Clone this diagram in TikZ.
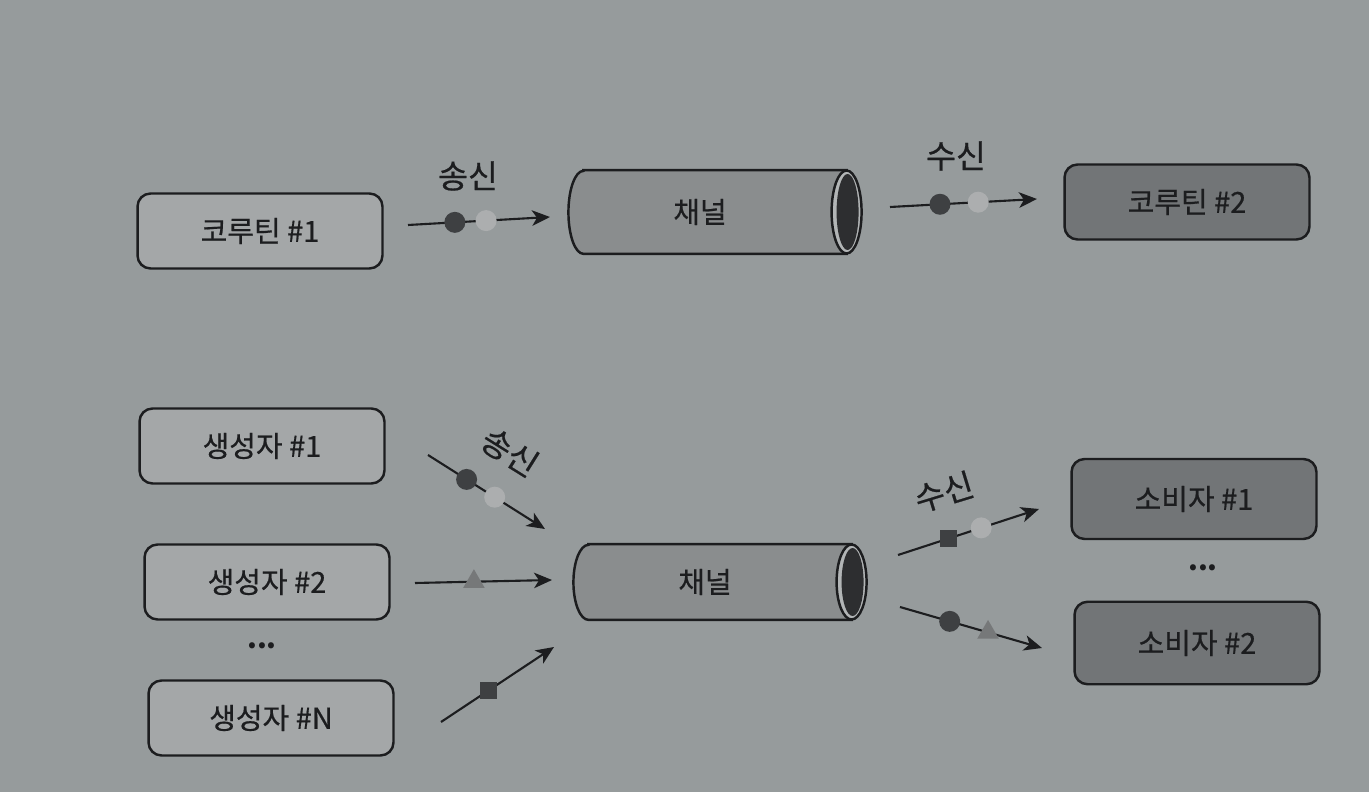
\documentclass[tikz,border=0pt]{standalone}
\usepackage{fontspec}
\setmainfont{Noto Sans CJK KR}[UprightFeatures={FakeBold=0.6}]
\usetikzlibrary{arrows.meta,shapes.geometric}

\definecolor{pagebg}{RGB}{150,155,156}
\definecolor{boxlight}{RGB}{164,167,168}
\definecolor{boxdark}{RGB}{114,117,119}
\definecolor{chanfill}{RGB}{138,141,142}
\definecolor{rimfill}{RGB}{178,181,182}
\definecolor{holefill}{RGB}{45,46,48}
\definecolor{inkcol}{RGB}{28,29,31}
\definecolor{balldark}{RGB}{62,64,66}
\definecolor{balllight}{RGB}{172,174,175}
\definecolor{trifill}{RGB}{118,120,121}

\begin{document}
\begin{tikzpicture}[
    x=0.02cm, y=0.02cm,
    box/.style={draw=inkcol, line width=1.4pt, rounded corners=0.26cm, minimum width=4.9cm, minimum height=1.5cm, font=\fontsize{16.5}{19}\selectfont, text=inkcol},
    srcbox/.style={box, fill=boxlight},
    dstbox/.style={box, fill=boxdark},
    pipebox/.style={minimum width=5.85cm, minimum height=1.66cm, inner sep=0pt},
    lbl/.style={font=\fontsize{18.5}{21}\selectfont, inner sep=0pt, text=inkcol},
    dots/.style={font=\fontsize{16}{18}\selectfont\bfseries, text=inkcol},
    arrow/.style={-{Stealth[length=3.6mm,width=3.1mm,inset=1mm]}, line width=1.2pt, draw=inkcol},
    ball/.style={circle, inner sep=0pt, minimum size=0.42cm},
    dark/.style={ball, fill=balldark},
    light/.style={ball, fill=balllight},
    tri/.style={regular polygon, regular polygon sides=3, inner sep=0pt, minimum size=0.5cm, fill=trifill},
    sq/.style={rectangle, inner sep=0pt, minimum size=0.34cm, fill=balldark}
  ]
    \fill[pagebg] (0,0) rectangle (1369,792);
    \useasboundingbox (0,0) rectangle (1369,792);

    % one sender, one receiver
    \node[srcbox] (co1) at (260,561) {코루틴 \#1};
    \node[pipebox] (ch1) at (715,580) {};
    \node[dstbox] (co2) at (1187,590) {코루틴 \#2};

    % many producers, many consumers
    \node[srcbox] (pr1) at (262,346) {생성자 \#1};
    \node[srcbox] (pr2) at (267,210) {생성자 \#2};
    \node[dots] (pdots) at (262,146) {...};
    \node[srcbox] (prn) at (271,74) {생성자 \#N};
    \node[pipebox, minimum height=1.5cm] (ch2) at (720,210) {};
    \node[dstbox, minimum height=1.6cm] (cs1) at (1194,293) {소비자 \#1};
    \node[dots] (cdots) at (1203,224) {...};
    \node[dstbox, minimum height=1.65cm] (cs2) at (1197,149) {소비자 \#2};

    % pipes
    \foreach \p/\ry in {ch1/0.83cm, ch2/0.75cm} {
      \draw[fill=chanfill, line width=1.4pt, draw=inkcol]
        ([xshift=0.3cm]\p.north west) -- ([xshift=-0.3cm]\p.north east)
        -- ([xshift=-0.3cm]\p.south east) -- ([xshift=0.3cm]\p.south west)
        arc[start angle=270, end angle=90, x radius=0.3cm, y radius=\ry] -- cycle;
      \draw[fill=rimfill, line width=1.4pt, draw=inkcol]
        ([xshift=-0.3cm]\p.east) ellipse[x radius=0.3cm, y radius=\ry];
      \fill[holefill] ([xshift=-0.28cm]\p.east) ellipse[x radius=0.22cm, y radius=\ry-0.07cm];
    }
    \node[box, draw=none, fill=none] (ch1t) at ([xshift=-0.3cm]ch1.center) {채널};
    \node[box, draw=none, fill=none] (ch2t) at ([xshift=-0.3cm]ch2.center) {채널};

    % arrows
    \coordinate (a1s) at (408,567);  \coordinate (a1e) at (550,575);
    \coordinate (a2s) at (890,585);  \coordinate (a2e) at (1037,593);
    \coordinate (b1s) at (428,337);  \coordinate (b1e) at (545,263);
    \coordinate (b2s) at (415,209);  \coordinate (b2e) at (552,212);
    \coordinate (b3s) at (441,70);   \coordinate (b3e) at (554,145);
    \coordinate (c1s) at (898,237);  \coordinate (c1e) at (1039,283);
    \coordinate (c2s) at (900,185);  \coordinate (c2e) at (1042,144);

    \draw[arrow] (a1s) -- node[pos=0.33, dark] (m1) {} node[pos=0.55, light] (m2) {} (a1e);
    \draw[arrow] (a2s) -- node[pos=0.34, dark] (m3) {} node[pos=0.6, light] (m4) {} (a2e);
    \draw[arrow] (b1s) -- node[pos=0.33, dark] (m5) {} node[pos=0.57, light] (m6) {} (b1e);
    \draw[arrow] (b2s) -- node[pos=0.43, tri] (m7) {} (b2e);
    \draw[arrow] (b3s) -- node[pos=0.42, sq] (m8) {} (b3e);
    \draw[arrow] (c1s) -- node[pos=0.36, sq] (m9) {} node[pos=0.59, light] (m10) {} (c1e);
    \draw[arrow] (c2s) -- node[pos=0.35, dark] (m11) {} node[pos=0.62, tri] (m12) {} (c2e);

    % labels
    \node[lbl] (send1) at (468,616) {송신};
    \node[lbl] (recv1) at (956,636) {수신};
    \node[lbl, rotate=-32] (send2) at (510,340) {송신};
    \node[lbl, rotate=17] (recv2) at (944,300) {수신};
\end{tikzpicture}
\end{document}
